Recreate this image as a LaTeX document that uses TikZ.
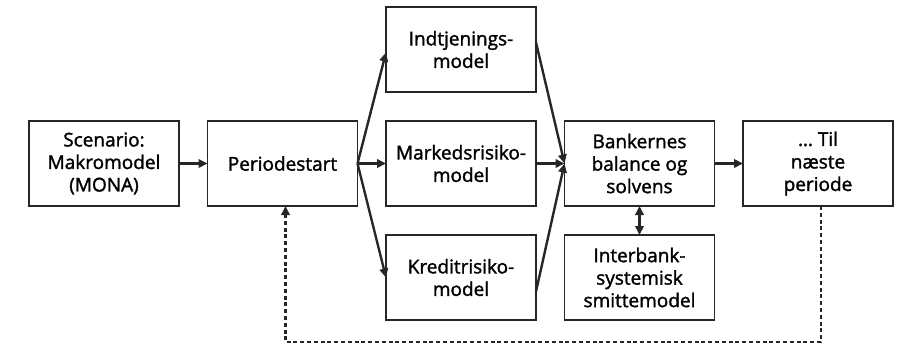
\documentclass[tikz,border=0pt]{standalone}
\usepackage{fontspec}
\newfontfamily\boxfont{Open Sans}[FakeBold=1.6]
\usetikzlibrary{arrows.meta,positioning,calc}
\tikzset{
  modelbox/.style={draw=black!85, line width=.75pt, align=center,
    minimum width=75pt, minimum height=42.5pt, inner sep=2pt, outer sep=0pt,
    font=\boxfont\fontsize{9.5}{11.25}\selectfont},
  flow/.style={-{Triangle[length=4.5pt,width=4.2pt]}, line width=1.2pt, draw=black!85},
  twoway/.style={{Triangle[length=4.5pt,width=4.2pt]}-{Triangle[length=4.5pt,width=4.2pt]},
    line width=1.2pt, draw=black!85},
  backflow/.style={-{Triangle[length=4.5pt,width=4.2pt]}, line width=1.1pt,
    dash pattern=on 2pt off 1.4pt, draw=black!85}
}

\begin{document}
\begin{tikzpicture}[node distance=14.5pt and 14.25pt]
  \node[modelbox] (scen) {Scenario:\\Makromodel\\(MONA)};
  \node[modelbox, right=of scen] (start) {Periodestart};
  \node[modelbox, right=of start] (marked) {Markedsrisiko-\\model};
  \node[modelbox, above=of marked] (indtj) {Indtjenings-\\model};
  \node[modelbox, below=of marked] (kredit) {Kreditrisiko-\\model};
  \node[modelbox, right=of marked] (bank) {Bankernes\\balance og\\solvens};
  \node[modelbox, below=of bank] (inter) {Interbank-\\systemisk\\smittemodel};
  \node[modelbox, right=of bank] (naeste) {… Til\\næste\\periode};

  \foreach \a/\b in {scen/start,start/marked,marked/bank,bank/naeste}{
    \draw[flow] (\a) -- (\b);
  }
  \draw[flow] (start.east) -- ([yshift=-1.5pt]indtj.west);
  \draw[flow] (start.east) -- (kredit.west);
  \draw[flow] ([yshift=3.5pt]indtj.east) -- (bank.west);
  \draw[flow] ([yshift=-7pt]kredit.east) -- (bank.west);
  \draw[twoway] (bank) -- (inter);

  % return path to the next period
  \coordinate (retur) at ($(naeste.south)+(1.5pt,-68pt)$);
  \draw[backflow] ([xshift=1.5pt]naeste.south) -- (retur) -| ([xshift=1.5pt]start.south);

  \useasboundingbox ($(scen.west |- indtj.north)+(-14.5pt,3.5pt)$) rectangle ++(451.5pt,-175pt);
\end{tikzpicture}
\end{document}
